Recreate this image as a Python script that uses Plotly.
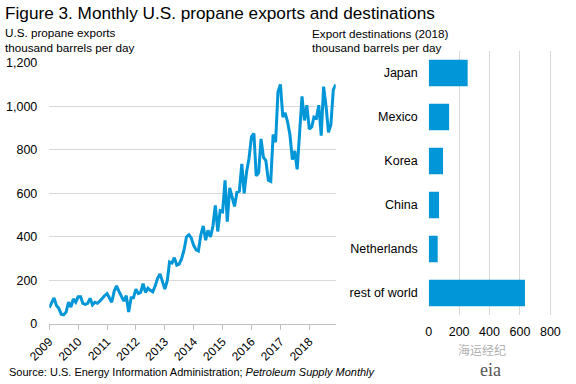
import plotly.graph_objects as go
import pandas as pd

# ---- data ----
months = pd.date_range("2009-01-01", periods=120, freq="MS")
exports_2009 = [75, 95, 120, 85, 72, 45, 42, 55, 100, 78, 115, 100]
exports_2010 = [125, 125, 95, 90, 95, 118, 88, 100, 95, 105, 120, 130]
exports_2011 = [140, 115, 100, 150, 175, 150, 125, 105, 130, 55, 120, 120]
exports_2012 = [160, 140, 145, 185, 145, 165, 155, 148, 175, 210, 230, 195]
exports_2013 = [160, 200, 285, 280, 305, 270, 275, 300, 340, 400, 410, 395]
exports_2014 = [360, 340, 335, 410, 450, 385, 430, 400, 450, 545, 425, 520]
exports_2015 = [515, 660, 470, 625, 580, 540, 605, 610, 735, 600, 700, 760]
exports_2016 = [860, 875, 680, 695, 850, 765, 750, 660, 655, 870, 835, 1065]
exports_2017 = [1100, 950, 970, 930, 870, 755, 795, 710, 880, 1045, 935, 1005]
exports_2018 = [895, 905, 950, 945, 1005, 865, 1090, 1000, 880, 915, 1075, 1100]
exports = (exports_2009 + exports_2010 + exports_2011 + exports_2012 + exports_2013
           + exports_2014 + exports_2015 + exports_2016 + exports_2017 + exports_2018)

destinations = ["Japan", "Mexico", "Korea", "China", "Netherlands", "rest of world"]
dest_values = [256, 134, 94, 68, 59, 633]

year_ticks = [f"{y}-01-01" for y in range(2009, 2019)]
year_labels = [str(y) for y in range(2009, 2019)]

BLUE = "#0096D7"
GRID = "#D9D9D9"
FONT = "Liberation Sans, Arial, sans-serif"

fig = go.Figure()
fig.add_trace(go.Scatter(x=months, y=exports, mode="lines",
                         line=dict(color=BLUE, width=3), xaxis="x", yaxis="y",
                         showlegend=False, hoverinfo="skip"))
fig.add_trace(go.Bar(x=dest_values, y=destinations, orientation="h",
                     marker=dict(color=BLUE, line=dict(width=0)),
                     xaxis="x2", yaxis="y2", showlegend=False, hoverinfo="skip"))

fig.update_layout(
    width=576, height=384,
    margin=dict(l=0, r=0, t=0, b=0),
    paper_bgcolor="white", plot_bgcolor="white",
    font=dict(family=FONT, size=12, color="#000000"),
    bargap=0.4,
    xaxis=dict(domain=[0.0856, 0.5828], type="date",
               range=["2009-01-01", "2018-12-01"],
               tickmode="array", tickvals=year_ticks, ticktext=year_labels,
               tickangle=-45, ticks="outside", ticklen=5, tickcolor="#BFBFBF",
               showline=True, linecolor="#BFBFBF", linewidth=1,
               showgrid=False, zeroline=False, anchor="y", automargin=False,
               tickfont=dict(size=12)),
    yaxis=dict(domain=[0.15625, 0.8367], range=[0, 1200],
               tickvals=[0, 200, 400, 600, 800, 1000, 1200],
               tickformat=",d", showgrid=True, gridcolor=GRID, gridwidth=1,
               zeroline=False, showline=False, anchor="x", automargin=False,
               ticklabelstandoff=11, tickfont=dict(size=12.5)),
    xaxis2=dict(domain=[0.7443, 0.9753], range=[0, 875],
                tickvals=[0, 200, 400, 600, 800],
                showgrid=True, gridcolor=GRID, gridwidth=1,
                zeroline=False, showline=False, anchor="y2", automargin=False,
                ticklabelstandoff=8, tickfont=dict(size=12.5)),
    yaxis2=dict(domain=[0.1797, 0.8672], autorange="reversed",
                type="category", showgrid=False, zeroline=False,
                showline=False, anchor="x2", automargin=False,
                ticklabelstandoff=10, tickfont=dict(size=12.5)),
)

annotations = [
    dict(text="Figure 3. Monthly U.S. propane exports and destinations",
         x=3 / 576, y=1 - 13 / 384, font=dict(size=17.2)),
    dict(text="U.S. propane exports", x=3 / 576, y=1 - 32 / 384, font=dict(size=11.7)),
    dict(text="thousand barrels per day", x=3 / 576, y=1 - 47 / 384, font=dict(size=11.7)),
    dict(text="Export destinations (2018)", x=310 / 576, y=1 - 33 / 384, font=dict(size=11.7)),
    dict(text="thousand barrels per day", x=310 / 576, y=1 - 47 / 384, font=dict(size=11.7)),
    dict(text="Source: U.S. Energy Information Administration; <i>Petroleum Supply Monthly</i>",
         x=7 / 576, y=1 - 372 / 384, font=dict(size=11)),
    dict(text="海运经纪", x=456 / 576, y=1 - 349 / 384,
         font=dict(size=12, color="#B0B0B0", family="Noto Sans CJK SC")),
    dict(text="eia", x=478 / 576, y=1 - 370 / 384,
         font=dict(size=18, color="#555555", family="Liberation Serif")),
]
for a in annotations:
    a.update(xref="paper", yref="paper", showarrow=False, xanchor="left", yanchor="middle")
fig.update_layout(annotations=annotations)

fig.write_html("out.html",
               config={"displayModeBar": False, "staticPlot": True},
               post_script="document.body.style.margin='0';document.body.style.padding='0';")
